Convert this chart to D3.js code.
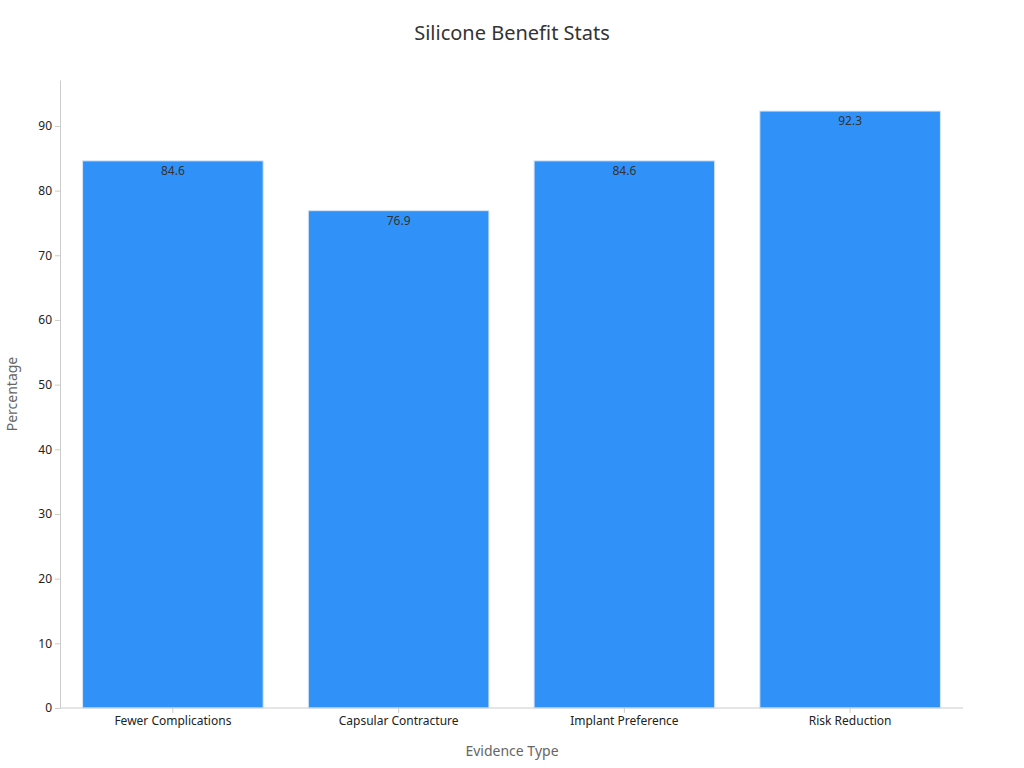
<!DOCTYPE html>
<html><head><meta charset="utf-8">
<script src="https://cdn.jsdelivr.net/npm/d3@7"></script>
<style>body{margin:0;background:#fff;font-family:"Noto Sans",sans-serif}</style>
</head><body><svg id="c" width="1024" height="768"></svg>
<script>
const categories=["Fewer Complications","Capsular Contracture","Implant Preference","Risk Reduction"];
const values=[84.6,76.9,84.6,92.3];
const yTicks=[0,10,20,30,40,50,60,70,80,90];
const svg=d3.select("#c");
const m={l:60,r:61,t:80,b:60};
const W=1024,H=768;
const x=d3.scaleBand().domain(categories).range([m.l,W-m.r]).paddingInner(0.2).paddingOuter(0.1);
const y=d3.scaleLinear().domain([0,97.1]).range([H-m.b,m.t]);
svg.append("text").attr("x",512).attr("y",40).attr("text-anchor","middle").attr("font-size",20).attr("fill","#333").text("Silicone Benefit Stats");
svg.selectAll("rect.b").data(values).join("rect").attr("x",(d,i)=>x(categories[i])).attr("y",d=>y(d)).attr("width",x.bandwidth()).attr("height",d=>y(0)-y(d)).attr("fill","#3092f8").attr("stroke","#d8e6f5").attr("stroke-width",1);
svg.selectAll("text.v").data(values).join("text").attr("x",(d,i)=>x(categories[i])+x.bandwidth()/2).attr("y",d=>y(d)+14).attr("text-anchor","middle").attr("font-size",12).attr("fill","#333").text(d=>d.toFixed(1));
const ya=svg.append("g").attr("transform",`translate(${m.l},0)`).call(d3.axisLeft(y).tickValues(yTicks).tickSize(5).tickSizeOuter(0));
const xa=svg.append("g").attr("transform",`translate(0,${H-m.b})`).call(d3.axisBottom(x).tickSize(5).tickSizeOuter(0));
[ya,xa].forEach(a=>{a.selectAll("path,line").attr("stroke","#ccc");a.selectAll("text").attr("fill","#222").attr("font-size",12).attr("font-family","Noto Sans");});
xa.select("path").attr("d",`M${m.l},0H${W-m.r}`);
svg.append("text").attr("x",512).attr("y",756).attr("text-anchor","middle").attr("font-size",14).attr("fill","#666").text("Evidence Type");
svg.append("text").attr("transform","translate(17,394) rotate(-90)").attr("text-anchor","middle").attr("font-size",14).attr("fill","#666").text("Percentage");
</script></body></html>
